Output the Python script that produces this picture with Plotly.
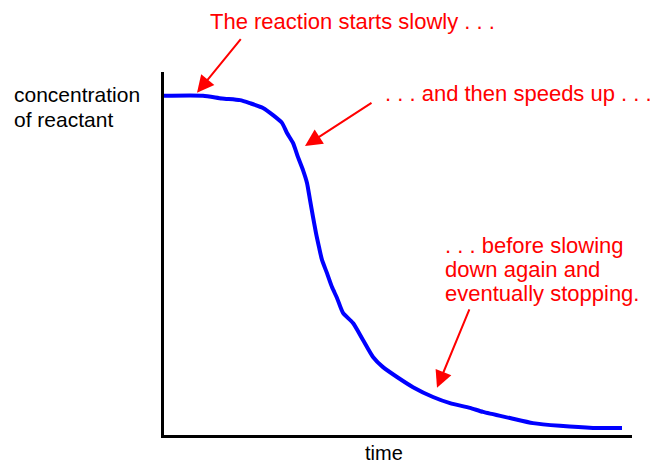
import plotly.graph_objects as go

# Reaction progress curve (time in arbitrary units, concentration in % of start)
time = [0.0, 3.9, 5.8, 7.6, 8.6, 9.9, 10.9, 11.8, 12.3, 12.9, 13.4, 13.9, 14.3, 14.6,
        14.9, 15.2, 15.5, 15.8, 16.3, 16.8, 17.3, 17.9, 18.9, 19.9, 20.9, 21.9, 23.3,
        24.9, 26.9, 28.6, 30.6, 31.9, 34.6, 36.9, 39.6, 42.9, 45.8]
concentration = [100.0, 100.0, 99.2, 98.7, 97.8, 96.4, 94.3, 92.0, 89.0, 86.1, 81.9, 78.1,
                 74.3, 69.3, 64.3, 59.5, 55.4, 51.6, 47.7, 43.6, 40.4, 36.0, 33.0, 28.0,
                 23.0, 20.0, 17.1, 14.1, 11.2, 9.4, 8.0, 6.8, 5.0, 3.5, 2.7, 2.1, 2.1]

x_label = "time"
y_label_lines = ["concentration", "of reactant"]
note_start = "The reaction starts slowly . . ."
note_speed = ". . . and then speeds up . . ."
note_slow_lines = [". . . before slowing", "down again and", "eventually stopping."]

# arrow tips on the curve (time, concentration)
arrow_tips = [(3.3, 100.9), (14.1, 85.2), (27.3, 13.9)]
arrow_offsets = [(45, -55), (68, -44), (33, -80)]

RED = "#ff0000"
BLUE = "#0000ff"
FONT = "Liberation Sans, Arial, sans-serif"

W, H = 670, 466
ML, MR, MT, MB = 164, 38, 72, 31
PW, PH = W - ML - MR, H - MT - MB


def px(x):
    return (x - ML) / PW


def py(y):
    return (H - MB - y) / PH


fig = go.Figure()
fig.add_trace(go.Scatter(x=time, y=concentration, mode="lines",
                         line=dict(color=BLUE, width=4, shape="spline", smoothing=0.6),
                         hoverinfo="skip", showlegend=False))

ann = []
for (tx, ty), (ax, ay) in zip(arrow_tips, arrow_offsets):
    ann.append(dict(x=tx, y=ty, xref="x", yref="y", ax=ax, ay=ay, text="",
                    showarrow=True, arrowhead=2, arrowsize=1.7, arrowwidth=2,
                    arrowcolor=RED, font=dict(size=1)))

ann.append(dict(x=px(208), y=py(22), xref="paper", yref="paper", text=note_start,
                showarrow=False, xanchor="left", yanchor="middle",
                font=dict(family=FONT, size=22, color=RED)))
ann.append(dict(x=px(383), y=py(94), xref="paper", yref="paper", text=note_speed,
                showarrow=False, xanchor="left", yanchor="middle",
                font=dict(family=FONT, size=22, color=RED)))
for i, line in enumerate(note_slow_lines):
    ann.append(dict(x=px(443), y=py(245 + 24 * i), xref="paper", yref="paper",
                    text=line, showarrow=False, xanchor="left", yanchor="middle",
                    font=dict(family=FONT, size=22, color=RED)))
for i, line in enumerate(y_label_lines):
    ann.append(dict(x=px(12), y=py(95 + 24 * i), xref="paper", yref="paper",
                    text=line, showarrow=False, xanchor="left", yanchor="middle",
                    font=dict(family=FONT, size=21, color="black")))
ann.append(dict(x=px(384), y=py(453), xref="paper", yref="paper", text=x_label,
                showarrow=False, xanchor="center", yanchor="middle", borderpad=0,
                font=dict(family=FONT, size=20, color="black")))

fig.update_layout(
    width=W, height=H,
    margin=dict(l=ML, r=MR, t=MT, b=MB, pad=0),
    paper_bgcolor="white", plot_bgcolor="white",
    xaxis=dict(range=[0, 46.8], showline=True, linecolor="black", linewidth=3,
               showgrid=False, zeroline=False, showticklabels=False, ticks=""),
    yaxis=dict(range=[0, 107], showline=True, linecolor="black", linewidth=3,
               showgrid=False, zeroline=False, showticklabels=False, ticks=""),
    annotations=ann,
    showlegend=False,
)

fig.write_html("out.html",
               config={"displayModeBar": False},
               post_script="document.body.style.margin='0';"
                           "document.body.style.overflow='hidden';")
